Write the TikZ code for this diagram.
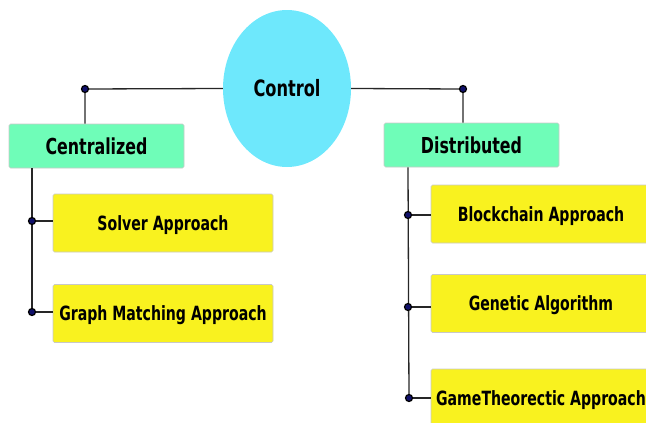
\documentclass[tikz,border=0pt]{standalone}
\usepackage{fontspec}
\setmainfont{DejaVu Sans Condensed}[FakeStretch=0.8]
\usetikzlibrary{shapes.geometric}
\definecolor{ctrlc}{HTML}{6EE8FC}
\definecolor{greenc}{HTML}{6FFDB8}
\definecolor{yellc}{HTML}{F9F21F}
\definecolor{edgec}{HTML}{C8C8C8}
\definecolor{dotin}{HTML}{10106A}
\tikzset{
  head/.style={rectangle, fill=greenc, draw=edgec, line width=0.6pt, rounded corners=1.5pt,
    minimum width=175pt, minimum height=44pt, font=\fontsize{22}{24}\selectfont\bfseries, inner sep=0pt,
    text height=16pt, text depth=0pt},
  leaf/.style={rectangle, fill=yellc, draw=edgec, line width=0.6pt, rounded corners=1.5pt,
    minimum width=220pt, minimum height=58pt, font=\fontsize{19.6}{22}\selectfont\bfseries, inner sep=0pt,
    text height=14.3pt, text depth=0pt},
  conn/.style={draw=black!85, line width=1.3pt},
  dotc/.style={circle, fill=dotin, draw=black, line width=1.2pt, inner sep=0pt, minimum size=7pt},
}
\begin{document}
\begin{tikzpicture}[x=1pt,y=-1pt]
\useasboundingbox (0,0) rectangle (646,423);
\clip (0,0) rectangle (646,423);
% nodes
\node[ellipse, fill=ctrlc, minimum width=128pt, minimum height=157pt, inner sep=0pt,
  text height=16.4pt, text depth=0pt,
  font=\fontsize{22.5}{24}\selectfont\bfseries] (ctrl) at (287,88.5) {Control};
\node[head] (cen) at (96.5,146) {Centralized};
\node[head] (dis) at (471.5,145) {Distributed};
\node[leaf] (solver) at (163,223) {Solver Approach};
\node[leaf] (graph) at (163,313.5) {Graph Matching Approach};
\node[leaf] (block) at (541,214) {Blockchain Approach};
\node[leaf] (gen) at (541,303.5) {Genetic Algorithm};
\node[leaf] (game) at (541,398) {GameTheorectic Approach};
% junction coordinates
\coordinate (jl) at (85,89);
\coordinate (jr) at (463,89);
\coordinate (l1) at (32,221);
\coordinate (l2) at (32,312);
\coordinate (r1) at (408,215);
\coordinate (r2) at (408,307);
\coordinate (r3) at (409,398);
% connectors
\draw[conn] (ctrl.west) -- (jl) -- (jl |- cen.north);
\draw[conn] (ctrl.east) -- (jr) -- (jr |- dis.north);
\draw[conn] (cen.south -| l1) -- (l2);
\draw[conn] (l1) -- (l1 -| solver.west);
\draw[conn] (l2) -- (l2 -| graph.west);
\draw[conn] (dis.south -| r1) -- (r3);
\draw[conn] (r1) -- (r1 -| block.west);
\draw[conn] (r2) -- (r2 -| gen.west);
\draw[conn] (r3) -- (r3 -| game.west);
% dots
\foreach \p in {jl,jr,l1,l2,r1,r2,r3} \node[dotc] at (\p) {};
\end{tikzpicture}
\end{document}
